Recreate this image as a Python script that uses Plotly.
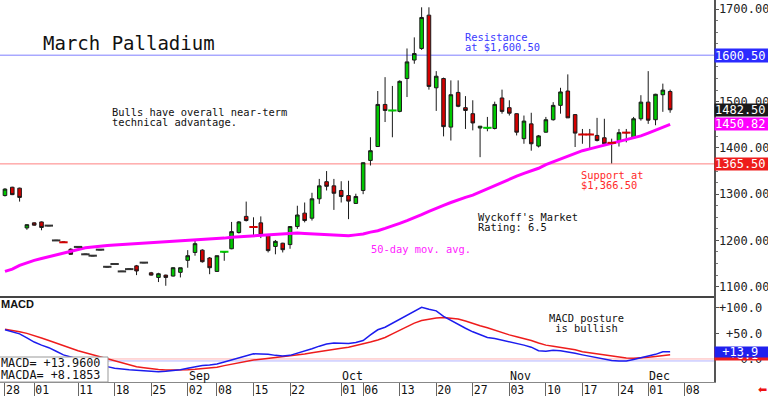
import math
import plotly.graph_objects as go

# ---------------- data ----------------
jul_days = [28, 29, 30, 31]
aug_days = [1, 4, 5, 6, 7, 8, 11, 12, 13, 14, 15, 18, 19, 20, 21, 22, 25, 26, 27, 28, 29]
sep_days = [2, 3, 4, 5, 8, 9, 10, 11, 12, 15, 16, 17, 18, 19, 22, 23, 24, 25, 26, 29, 30]
oct_days = [1, 2, 3, 6, 7, 8, 9, 10, 13, 14, 15, 16, 17, 20, 21, 22, 23, 24, 27, 28, 29, 30, 31]
nov_days = [3, 4, 5, 6, 7, 10, 11, 12, 13, 14, 17, 18, 19, 20, 21, 24, 25, 26, 28]
dec_days = [1, 2, 3, 4, 5, 8]
sessions = [f"2025-{m:02d}-{d:02d}" for m, days in
            ((7, jul_days), (8, aug_days), (9, sep_days), (10, oct_days), (11, nov_days), (12, dec_days))
            for d in days]

opens = [
    1297, 1315, 1313, 1227, 1238, 1240, 1232, 1200, 1196.5, 1181,
    1186, 1170, 1167, 1180, 1143, 1149, 1133, 1138, 1145, 1152,
    1130, 1120, 1125, 1123, 1131, 1157, 1174, 1179, 1162, 1133,
    1175, 1182, 1217, 1252, 1229.5, 1238, 1212, 1187, 1194, 1191,
    1230, 1259, 1248, 1290, 1327, 1318, 1308, 1297, 1280, 1308,
    1373, 1403, 1494, 1480.5, 1479, 1550, 1590, 1615, 1687, 1530,
    1550, 1445, 1520, 1487, 1474, 1443, 1443, 1442, 1508, 1487,
    1474, 1420, 1452, 1404, 1434, 1461, 1492, 1523, 1472, 1429.5,
    1429.5, 1427, 1422, 1411.5, 1416, 1433.5, 1422, 1463, 1499, 1461,
    1515, 1522]
highs = [
    1313, 1316, 1314, 1235, 1239, 1241, 1232, 1200, 1196.5, 1183,
    1186, 1170, 1167, 1180, 1143, 1149, 1133, 1138, 1147, 1152,
    1132, 1130, 1126, 1142, 1141, 1179, 1203, 1181, 1164, 1167,
    1177, 1240, 1242, 1284, 1250, 1252, 1213, 1201, 1195, 1231,
    1275, 1282, 1303, 1333, 1350, 1333, 1328, 1329, 1301, 1369,
    1423, 1523, 1553, 1534, 1546, 1615, 1639, 1704, 1704, 1566,
    1552, 1546, 1546, 1512, 1503, 1447, 1467, 1500, 1526, 1503,
    1475, 1470, 1476, 1428, 1467, 1499, 1530, 1559, 1473, 1441,
    1441, 1465, 1463, 1420, 1441, 1441, 1467, 1514, 1566, 1517,
    1539, 1526]
lows = [
    1295, 1298, 1284, 1223, 1232, 1222, 1232, 1200, 1196, 1169,
    1186, 1170, 1167, 1180, 1143, 1149, 1133, 1138, 1125, 1152,
    1124, 1110, 1102, 1122, 1120, 1141, 1167, 1152, 1127, 1132,
    1156, 1181, 1215, 1241, 1210, 1205, 1174, 1170, 1174, 1182,
    1225, 1239, 1243, 1279, 1308, 1266, 1282, 1246, 1279, 1300,
    1362, 1402, 1456, 1423, 1477, 1510, 1582, 1612, 1526, 1480,
    1425, 1416, 1488, 1441, 1438, 1380, 1436, 1440, 1474, 1470,
    1427, 1409, 1394, 1401, 1433, 1459, 1474, 1465, 1402, 1409,
    1396, 1414, 1405, 1366.5, 1403, 1412, 1421, 1459, 1452, 1449,
    1478, 1476]
closes = [
    1311, 1299, 1293, 1234, 1233, 1228, 1232, 1200, 1196, 1170,
    1186, 1170, 1167, 1180, 1143, 1149, 1133, 1138, 1134, 1152,
    1125, 1128, 1120, 1141, 1141, 1167, 1193, 1154, 1141, 1167,
    1175.5, 1219, 1240, 1243, 1229, 1212, 1178, 1198, 1180, 1230,
    1255, 1243, 1290, 1318, 1317, 1302, 1295, 1285, 1295, 1368,
    1394, 1494, 1481, 1481, 1544, 1586, 1604, 1682, 1533, 1555,
    1446, 1515, 1490, 1481, 1454, 1447, 1443.5, 1494, 1479, 1475,
    1434, 1458, 1409, 1426, 1461, 1492, 1521, 1465, 1432, 1429,
    1429, 1416, 1409, 1411, 1433, 1433, 1463, 1499, 1460, 1516,
    1525, 1482.5]
ma50 = [
    1133, 1138, 1146, 1152, 1157, 1161, 1165, 1169, 1172, 1176,
    1180, 1184, 1186, 1188, 1189, 1190, 1191, 1192, 1193, 1194,
    1195, 1196, 1197, 1197, 1198, 1199, 1200, 1202, 1203, 1204,
    1205, 1207, 1208, 1210, 1211, 1212, 1213, 1214, 1215, 1216,
    1216, 1215, 1214, 1213, 1212, 1211, 1210, 1210, 1212, 1214,
    1218, 1221, 1226, 1231, 1237, 1243, 1249, 1256, 1263, 1270,
    1276, 1282, 1288, 1293, 1298, 1305, 1311, 1318, 1325, 1332,
    1339, 1345, 1350, 1356, 1364, 1370, 1376, 1382, 1387, 1394,
    1398, 1402, 1405, 1410, 1413, 1417, 1421, 1426, 1432, 1438,
    1445, 1450.82]
macd = [
    57, 53, 49, 41, 33, 27, 22, 15, 8, 4,
    0, -4, -8, -12, -15, -18, -20, -21, -22, -23,
    -24, -25, -24, -23, -21, -18, -15, -13, -12, -10,
    -6, -2, 3, 7, 10, 9.5, 9, 7, 6, 7,
    11, 15, 20, 25, 29, 31, 30, 30, 32, 36,
    47, 57, 62, 70, 78, 86, 94, 101, 97, 94,
    83, 75, 67, 60, 53, 47, 42, 40, 37, 34,
    30, 27, 23, 16, 15, 17, 16, 14, 11, 8,
    5, 3, 0, -3, -4, -4, -1, 2, 5, 9,
    14, 13.96]
macda = [
    58, 56, 53, 50, 46, 41, 36, 31, 25, 21,
    16, 12, 8, 4.5, 0, -4, -8, -12, -15, -17,
    -19, -20.5, -21.4, -21.5, -21.4, -21, -20, -18.5, -17, -16,
    -13, -10, -7, -4, -2, -0.5, 1, 2.5, 4, 6,
    7.5, 9.5, 12, 14.5, 17, 19, 21, 23, 26, 29,
    33, 37, 42, 49, 56, 63, 70, 75, 78, 80,
    81, 80, 78, 74, 69, 65, 61, 56, 51, 47,
    43.5, 40, 36, 31, 27, 25, 23, 21, 18, 14,
    12, 10, 8, 5, 4, 2, 1.4, 2, 3.3, 5,
    7, 8.1853]

tick_dates = ["2025-07-28", "2025-08-01", "2025-08-11", "2025-08-18", "2025-08-25",
              "2025-09-02", "2025-09-08", "2025-09-15", "2025-09-22", "2025-10-01",
              "2025-10-06", "2025-10-13", "2025-10-20", "2025-10-27", "2025-11-03",
              "2025-11-10", "2025-11-17", "2025-11-24", "2025-12-01", "2025-12-08"]
month_starts = ["2025-09-02", "2025-10-01", "2025-11-03", "2025-12-01"]
month_names = ["Sep", "Oct", "Nov", "Dec"]
resistance = 1600.50
support = 1365.50
price_ticks = [1100, 1200, 1300, 1400, 1500, 1600, 1700]
macd_ticks = [100, 50, 0]

# ---------------- figure ----------------
W, H = 768, 397
ML, MR, MT, MB = 0, 54, 0, 15
PW, PH = W - ML - MR, H - MT - MB
SPLIT = 297  # pixel row of panel separator

def px(x):
    return x / PW

def py(y):
    return (PH - y) / PH

MONO = "DejaVu Sans Mono"
GREEN = "#00c800"
RED = "#d40000"
xs = list(range(len(closes)))

fig = go.Figure()

fig.add_trace(go.Scatter(x=xs, y=ma50, mode="lines", line=dict(color="#ff00ff", width=3),
                         xaxis="x", yaxis="y", hoverinfo="skip"))

fig.add_trace(go.Candlestick(
    x=xs, open=opens, high=highs, low=lows, close=closes, xaxis="x", yaxis="y",
    whiskerwidth=0,
    increasing=dict(fillcolor=GREEN, line=dict(color="#1a1a1a", width=1)),
    decreasing=dict(fillcolor=RED, line=dict(color="#1a1a1a", width=1)),
    hoverinfo="skip"))

flat = [i for i in xs if abs(closes[i] - opens[i]) < 1.5]
flat_cols = [GREEN if closes[i] > opens[i] else (RED if closes[i] < opens[i] else "#333333") for i in flat]
fig.add_trace(go.Scatter(x=flat, y=[closes[i] for i in flat], mode="markers",
                         marker=dict(symbol="line-ew", size=6, color=flat_cols,
                                     line=dict(color=flat_cols, width=2)),
                         xaxis="x", yaxis="y", hoverinfo="skip"))

fig.add_trace(go.Scatter(x=xs, y=macda, mode="lines", line=dict(color="#ee1c1c", width=1.5),
                         xaxis="x", yaxis="y2", hoverinfo="skip"))
fig.add_trace(go.Scatter(x=xs, y=macd, mode="lines", line=dict(color="#1c1cee", width=1.5),
                         xaxis="x", yaxis="y2", hoverinfo="skip"))

tickpos = [sessions.index(d) for d in tick_dates]
ticktext = [d[-2:] for d in tick_dates]

split_paper = py(SPLIT)
fig.update_layout(
    template="none",
    width=W, height=H, margin=dict(l=ML, r=MR, t=MT, b=MB, pad=0, autoexpand=False),
    paper_bgcolor="white", plot_bgcolor="white", showlegend=False, hovermode=False,
    boxgap=0.3,
    xaxis=dict(domain=[0, 1], anchor="y2", range=[-0.68, 97.0], automargin=False,
               rangeslider=dict(visible=False),
               tickmode="array", tickvals=tickpos, ticktext=ticktext,
               ticks="outside", ticklen=13, tickwidth=1, tickcolor="#666",
               ticklabelshift=8, ticklabelstandoff=-16,
               tickfont=dict(family=MONO, size=11.5, color="#111"),
               showline=True, linecolor="#888", linewidth=1,
               showgrid=False, zeroline=False),
    yaxis=dict(domain=[split_paper, 1], anchor="x", side="right", automargin=False,
               range=[1077.7, 1719.8], tickmode="array", tickvals=price_ticks,
               tickformat=".2f", ticks="outside", ticklen=3, tickcolor="#555",
               ticklabelstandoff=-2,
               minor=dict(tickmode="linear", dtick=25, ticks="outside", ticklen=2, tickcolor="#777"),
               tickfont=dict(family=MONO, size=12, color="#222"),
               showline=True, linecolor="#555", linewidth=1.5,
               showgrid=False, zeroline=False),
    yaxis2=dict(domain=[0, split_paper], anchor="x", side="right", automargin=False,
                range=[-45, 121], tickmode="array", tickvals=macd_ticks,
                ticktext=[f"{v:+.1f}".rjust(6, "\u00a0") if v else "0.0".rjust(6, "\u00a0") for v in macd_ticks],
                ticks="outside", ticklen=3, tickcolor="#555", ticklabelstandoff=-2,
                tickfont=dict(family=MONO, size=12, color="#222"),
                showline=True, linecolor="#555", linewidth=1.5,
                showgrid=False, zeroline=False),
)

shapes = [
    dict(type="line", xref="paper", yref="y", x0=0, x1=1, y0=resistance, y1=resistance,
         line=dict(color="#7f7fff", width=1), layer="below"),
    dict(type="line", xref="paper", yref="y", x0=0, x1=1, y0=support, y1=support,
         line=dict(color="#ff8080", width=1), layer="below"),
    dict(type="line", xref="paper", yref="y2", x0=0, x1=1, y0=0, y1=0,
         line=dict(color="#ffb3b3", width=1), layer="below"),
    dict(type="line", xref="paper", yref="y2", x0=0, x1=1, ysizemode="pixel", yanchor=0,
         y0=-2, y1=-2, line=dict(color="#b3b3ff", width=1), layer="below"),
    dict(type="line", xref="paper", yref="paper", x0=0, x1=1, y0=split_paper, y1=split_paper,
         line=dict(color="#444", width=2), layer="above"),
    dict(type="rect", xref="paper", yref="paper", x0=px(-2), x1=px(108), y0=py(382), y1=py(357),
         fillcolor="white", line=dict(color="#999", width=1), layer="above"),
]
fig.update_layout(shapes=shapes)

ann = []

def text(t, x, y, size=10.4, color="#111", family=MONO):
    ann.append(dict(text=t, xref="paper", yref="paper", x=px(x), y=py(y), xanchor="left",
                    yanchor="middle", showarrow=False, font=dict(family=family, size=size, color=color)))

text("March Palladium", 41, 43.5, size=19)
text("Bulls have overall near-term", 110, 111.5)
text("technical advantage.", 110, 122)
text("Resistance", 463, 36.5, color="#3a3aff")
text(f"at ${resistance:,.2f}", 463, 47, color="#3a3aff")
text("Support at", 579, 174.5, color="#ff2a2a")
text("$1,366.50", 579, 184.5, color="#ff2a2a")
text("Wyckoff's Market", 476, 216.5)
text("Rating: 6.5", 476, 227)
text("50-day mov. avg.", 369, 249.5, color="#ff22ff")
text("MACD posture", 547, 317.5)
text(" is bullish", 547, 328)
text("<b>MACD</b>", -1, 304, size=11, family="Liberation Sans")
text(f"MACD= {macd[-1]:+.4f}", -1, 363, size=11.8)
text(f"MACDA= {macda[-1]:+.4f}", -1, 374.5, size=11.8)

for d, name in zip(month_starts, month_names):
    ann.append(dict(text=name, xref="x", yref="paper", x=sessions.index(d), y=py(376),
                    xanchor="left", yanchor="middle", xshift=-1, showarrow=False,
                    font=dict(family=MONO, size=11.6, color="#111")))

def tag(t, yref, y, bg, h=12):
    ann.append(dict(text=t, xref="paper", yref=yref, x=1, y=y, xanchor="left", yanchor="middle",
                    width=MR, height=h, align="left", bgcolor=bg, borderpad=0, showarrow=False,
                    font=dict(family=MONO, size=12, color="white")))

tag(f"{resistance:.2f}", "y", resistance, "#2b2bff", 13)
tag(f"{support:.2f}", "y", support, "#ee1c1c", 12)
tag(f"{closes[-1]:.2f}", "y", closes[-1], "#1a1a1a", 12)
tag(f"{ma50[-1]:.2f}", "y", ma50[-1], "#ff00ff", 12)
tag(f"{math.trunc(macda[-1] * 10) / 10:+.1f}".rjust(6, "\u00a0"), "y2", macda[-1], "#ee1c1c", 11)
tag(f"{math.trunc(macd[-1] * 10) / 10:+.1f}".rjust(6, "\u00a0"), "y2", macd[-1], "#2020ee", 10)

ann.append(dict(text="\u2b05", xref="paper", yref="paper", x=px(762), y=py(389.5), xanchor="center",
                yanchor="middle", showarrow=False, font=dict(family="DejaVu Sans", size=11, color="#ee1111")))

fig.update_layout(annotations=ann)
fig.write_html("out.html", config={"displayModeBar": False, "staticPlot": True},
               post_script="document.body.style.margin='0';document.body.style.overflow='hidden';")
